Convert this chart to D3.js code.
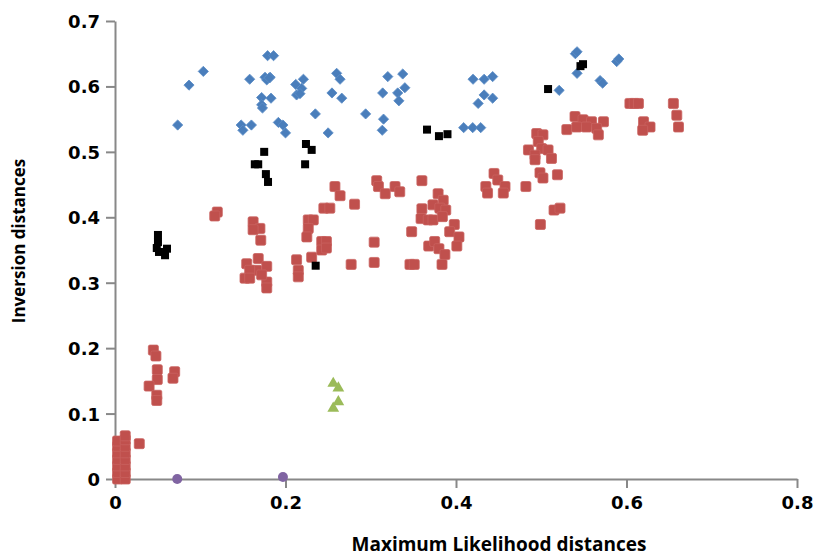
<!DOCTYPE html>
<html lang="en">
<head>
    <meta charset="UTF-8">
    <title>Inversion vs ML distances</title>
    <script src="https://d3js.org/d3.v7.min.js"></script>
    <style>
        body { margin: 0; background: #fff; }
    </style>
</head>
<body>
<script>
    // series values, [ML distance, inversion distance]
    var blueSeries = [
        [0.0735, 0.541], [0.0868, 0.602], [0.1036, 0.623], [0.158, 0.611], [0.179, 0.647], [0.186, 0.647],
        [0.176, 0.614], [0.182, 0.614], [0.178, 0.610], [0.181, 0.613], [0.172, 0.583], [0.183, 0.582],
        [0.172, 0.572], [0.173, 0.567], [0.148, 0.541], [0.160, 0.541], [0.150, 0.533], [0.1916, 0.545],
        [0.197, 0.541], [0.200, 0.529], [0.212, 0.603], [0.221, 0.611], [0.219, 0.597], [0.213, 0.587],
        [0.217, 0.589], [0.235, 0.558], [0.2545, 0.590], [0.250, 0.529], [0.260, 0.620], [0.264, 0.611],
        [0.266, 0.582], [0.294, 0.558], [0.315, 0.550], [0.3135, 0.533], [0.320, 0.615], [0.3375, 0.619],
        [0.314, 0.590], [0.3316, 0.590], [0.340, 0.598], [0.333, 0.578], [0.420, 0.611], [0.433, 0.611],
        [0.443, 0.615], [0.433, 0.587], [0.443, 0.582], [0.426, 0.574], [0.409, 0.537], [0.4196, 0.537],
        [0.429, 0.537], [0.521, 0.594], [0.540, 0.650], [0.542, 0.653], [0.542, 0.620], [0.569, 0.609],
        [0.572, 0.605], [0.5885, 0.638], [0.591, 0.642]
    ];

    var redSeries = [
        [0.003, 0.0], [0.003, 0.01], [0.003, 0.02], [0.003, 0.03], [0.003, 0.04], [0.003, 0.05], [0.003, 0.058],
        [0.012, 0.0], [0.012, 0.01], [0.012, 0.02], [0.012, 0.03], [0.012, 0.04], [0.012, 0.05], [0.012, 0.06],
        [0.012, 0.066], [0.0285, 0.054],
        [0.045, 0.197], [0.048, 0.188], [0.0496, 0.167], [0.0496, 0.152], [0.040, 0.142], [0.049, 0.128],
        [0.049, 0.120], [0.070, 0.164], [0.068, 0.154],
        [0.120, 0.408], [0.117, 0.402],
        [0.162, 0.393], [0.170, 0.383], [0.162, 0.381], [0.171, 0.365],
        [0.1545, 0.329], [0.168, 0.337], [0.178, 0.325], [0.1525, 0.307], [0.166, 0.319], [0.178, 0.301],
        [0.158, 0.319], [0.178, 0.292], [0.172, 0.312], [0.158, 0.307],
        [0.213, 0.335], [0.215, 0.319], [0.215, 0.309],
        [0.2267, 0.396], [0.2326, 0.396], [0.2267, 0.383], [0.225, 0.370], [0.2307, 0.339],
        [0.2425, 0.363], [0.248, 0.363], [0.2425, 0.350], [0.248, 0.353],
        [0.258, 0.447], [0.264, 0.433], [0.245, 0.414], [0.252, 0.414], [0.281, 0.420], [0.277, 0.328],
        [0.307, 0.456], [0.309, 0.447], [0.317, 0.436], [0.3285, 0.447], [0.334, 0.439],
        [0.304, 0.362], [0.304, 0.331], [0.360, 0.456], [0.348, 0.378], [0.346, 0.328], [0.351, 0.328],
        [0.379, 0.436], [0.385, 0.426], [0.360, 0.413], [0.373, 0.419], [0.381, 0.414], [0.388, 0.411],
        [0.359, 0.398], [0.3675, 0.396], [0.373, 0.396], [0.384, 0.401],
        [0.398, 0.389], [0.3926, 0.378], [0.4035, 0.370], [0.401, 0.356],
        [0.368, 0.356], [0.375, 0.363], [0.380, 0.352], [0.387, 0.343], [0.3836, 0.328],
        [0.435, 0.447], [0.4446, 0.467], [0.449, 0.457], [0.4575, 0.447], [0.4555, 0.437], [0.437, 0.437],
        [0.482, 0.447], [0.4985, 0.468], [0.502, 0.460], [0.519, 0.465], [0.515, 0.411], [0.522, 0.414],
        [0.499, 0.389],
        [0.4947, 0.528], [0.502, 0.526], [0.4965, 0.516], [0.5005, 0.505], [0.508, 0.503], [0.485, 0.503],
        [0.4927, 0.495], [0.512, 0.490], [0.4927, 0.488],
        [0.5396, 0.554], [0.549, 0.549], [0.559, 0.546], [0.573, 0.546], [0.530, 0.534], [0.5416, 0.538],
        [0.553, 0.538], [0.565, 0.536], [0.567, 0.526],
        [0.604, 0.574], [0.609, 0.574], [0.614, 0.574], [0.620, 0.546], [0.6276, 0.538], [0.619, 0.533],
        [0.655, 0.574], [0.659, 0.556], [0.661, 0.538]
    ];

    var blackSeries = [
        [0.175, 0.500], [0.164, 0.481], [0.168, 0.481], [0.177, 0.466], [0.1795, 0.454],
        [0.224, 0.512], [0.2307, 0.503], [0.223, 0.481], [0.2354, 0.326],
        [0.366, 0.534], [0.380, 0.524], [0.390, 0.527], [0.508, 0.596], [0.546, 0.631], [0.549, 0.634],
        [0.0504, 0.373], [0.0504, 0.362], [0.049, 0.353], [0.0516, 0.347], [0.0587, 0.342], [0.061, 0.352]
    ];

    var greenSeries = [[0.256, 0.146], [0.262, 0.139], [0.256, 0.108], [0.262, 0.118]];

    var purpleSeries = [[0.073, 0.0], [0.197, 0.003]];

    var xTicks = [0, 0.2, 0.4, 0.6, 0.8];
    var yTicks = [0, 0.1, 0.2, 0.3, 0.4, 0.5, 0.6, 0.7];

    var width = 814, height = 559;
    var axisColor = "#888888";

    var svg = d3.select("body").append("svg")
        .attr("width", width)
        .attr("height", height);

    var x = d3.scaleLinear().domain([0, 0.8]).range([115, 797]);
    var y = d3.scaleLinear().domain([0, 0.7]).range([479, 21]);

    var fmt = function (d) { return d === 0 ? "0" : d3.format(".1f")(d); };

    var yAxis = svg.append("g")
        .attr("transform", "translate(115,0)")
        .call(d3.axisLeft(y).tickValues(yTicks).tickSize(9).tickSizeOuter(0).tickPadding(6).tickFormat(fmt));

    var xAxis = svg.append("g")
        .attr("transform", "translate(0,479)")
        .call(d3.axisBottom(x).tickValues(xTicks).tickSize(9).tickSizeOuter(0).tickPadding(8).tickFormat(fmt));

    [xAxis, yAxis].forEach(function (g) {
        g.select(".domain").attr("stroke", axisColor).attr("stroke-width", 2);
        g.selectAll(".tick line").attr("stroke", axisColor).attr("stroke-width", 2);
        g.selectAll(".tick text")
            .attr("fill", "#000")
            .style("font-family", "DejaVu Sans")
            .style("font-weight", "bold")
            .style("font-size", "18px");
    });
    yAxis.selectAll(".tick text").attr("dy", "0.36em");

    // axis titles
    svg.append("text")
        .attr("x", 499)
        .attr("y", 551)
        .attr("text-anchor", "middle")
        .style("font-family", "Open Sans")
        .style("font-weight", "bold")
        .style("font-size", "19px")
        .text("Maximum Likelihood distances");

    svg.append("text")
        .attr("transform", "translate(25,241) rotate(-90)")
        .attr("text-anchor", "middle")
        .style("font-family", "Open Sans")
        .style("font-weight", "bold")
        .style("font-size", "17px")
        .text("Inversion distances");

    var plot = svg.append("g");

    // red squares
    plot.append("g").selectAll("rect")
        .data(redSeries)
        .enter()
        .append("rect")
        .attr("x", function (d) { return x(d[0]) - 5; })
        .attr("y", function (d) { return y(d[1]) - 5; })
        .attr("width", 10)
        .attr("height", 10)
        .attr("rx", 1.5)
        .attr("fill", "#C0504D")
        .attr("stroke", "#C9625F")
        .attr("stroke-width", 0.8);

    // blue diamonds
    var diamond = d3.symbol().type(d3.symbolSquare).size(52);
    plot.append("g").selectAll("path")
        .data(blueSeries)
        .enter()
        .append("path")
        .attr("d", diamond)
        .attr("transform", function (d) {
            return "translate(" + x(d[0]) + "," + y(d[1]) + ") rotate(45)";
        })
        .attr("fill", "#4A7EBB")
        .attr("stroke", "#5B8CC6")
        .attr("stroke-width", 0.8);

    // black squares
    plot.append("g").selectAll("rect")
        .data(blackSeries)
        .enter()
        .append("rect")
        .attr("x", function (d) { return x(d[0]) - 4; })
        .attr("y", function (d) { return y(d[1]) - 4; })
        .attr("width", 8)
        .attr("height", 8)
        .attr("fill", "#000");

    // green triangles
    var tri = d3.symbol().type(d3.symbolTriangle).size(60);
    plot.append("g").selectAll("path")
        .data(greenSeries)
        .enter()
        .append("path")
        .attr("d", tri)
        .attr("transform", function (d) {
            return "translate(" + x(d[0]) + "," + y(d[1]) + ")";
        })
        .attr("fill", "#9BBB59");

    // purple circles
    plot.append("g").selectAll("circle")
        .data(purpleSeries)
        .enter()
        .append("circle")
        .attr("cx", function (d) { return x(d[0]); })
        .attr("cy", function (d) { return y(d[1]); })
        .attr("r", 5)
        .attr("fill", "#8064A2");
</script>
</body>
</html>
